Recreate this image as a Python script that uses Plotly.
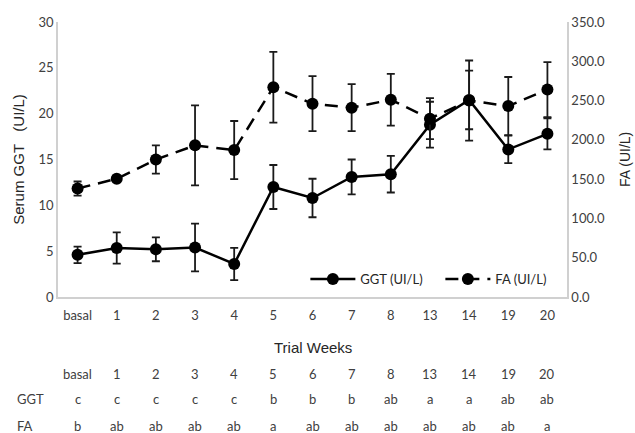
import plotly.graph_objects as go

weeks = ["basal", "1", "2", "3", "4", "5", "6", "7", "8", "13", "14", "19", "20"]
ggt = [4.6, 5.35, 5.2, 5.4, 3.6, 12.0, 10.8, 13.1, 13.4, 18.8, 21.5, 16.1, 17.8]
ggt_err = [0.9, 1.7, 1.3, 2.6, 1.75, 2.4, 2.1, 1.9, 2.0, 2.5, 3.2, 1.5, 1.7]
fa = [138, 150.5, 175, 193, 187, 267, 246, 241, 251, 227, 250, 243, 264]
fa_err = [9, 3, 18, 51, 37, 45, 35, 30, 33, 26, 51, 37, 35]
ggt_letters = ["c", "c", "c", "c", "c", "b", "b", "b", "ab", "a", "a", "ab", "ab"]
fa_letters = ["b", "ab", "ab", "ab", "ab", "a", "ab", "ab", "ab", "ab", "ab", "ab", "a"]

tick_font = dict(family="Lato, Carlito, Open Sans, sans-serif", size=13, color="#404040")
title_font = dict(family="Liberation Sans, Arial, sans-serif", size=15, color="#262626")

fig = go.Figure()
fig.add_trace(go.Scatter(
    x=weeks, y=ggt, name="GGT (UI/L)", mode="lines+markers",
    line=dict(color="black", width=2.5),
    marker=dict(size=12, color="black"),
    error_y=dict(type="data", array=ggt_err, color="#1a1a1a", thickness=1.8, width=4),
    yaxis="y"))
fig.add_trace(go.Scatter(
    x=weeks, y=fa, name="FA (UI/L)", mode="lines+markers",
    line=dict(color="black", width=2.5, dash="13px,8px"),
    marker=dict(size=12, color="black"),
    error_y=dict(type="data", array=fa_err, color="#1a1a1a", thickness=1.8, width=4),
    yaxis="y2"))

axcol = "#d0d0d0"
fig.update_layout(
    width=635, height=433,
    margin=dict(l=58, r=68, t=22, b=136),
    paper_bgcolor="white", plot_bgcolor="white",
    showlegend=True,
    legend=dict(orientation="h", x=0.486, y=0.065, xanchor="left", yanchor="middle",
                bgcolor="rgba(0,0,0,0)", font=dict(family=tick_font["family"], size=13, color="#262626"),
                itemwidth=45, entrywidth=75, entrywidthmode="pixels"),
    xaxis=dict(type="category", range=[-0.5, 12.5], showgrid=False, zeroline=False,
               showline=True, linecolor=axcol, linewidth=1.5, ticks="",
               tickfont=tick_font, ticklabelstandoff=6, automargin=False),
    yaxis=dict(range=[0, 30], dtick=5, showgrid=False, zeroline=False,
               showline=True, linecolor=axcol, linewidth=1.5, ticks="",
               tickfont=tick_font, automargin=False,
               title=dict(text="Serum GGT   (UI/L)", font=title_font, standoff=10)),
    yaxis2=dict(range=[0, 350], dtick=50, tickformat=".1f", overlaying="y", side="right",
                showgrid=False, zeroline=False, showline=True, linecolor=axcol, linewidth=1.5,
                ticks="", tickfont=tick_font, automargin=False),
)

# right axis title
fig.add_annotation(text="FA (UI/L)", xref="paper", yref="paper", x=1.113, y=0.5,
                   textangle=-90, showarrow=False,
                   font=dict(family=title_font["family"], size=14, color="#262626"),
                   xanchor="center", yanchor="middle")

# x-axis title
fig.add_annotation(text="Trial Weeks", xref="paper", yref="paper", x=0.5, y=-0.182,
                   showarrow=False, font=title_font, yanchor="middle")

# significance table
row_y = [-0.28, -0.371, -0.468]
for i, w in enumerate(weeks):
    fig.add_annotation(text=w, x=i, xref="x", yref="paper", y=row_y[0], showarrow=False,
                       font=tick_font, yanchor="middle")
for i, l in enumerate(ggt_letters):
    fig.add_annotation(text=l, x=i, xref="x", yref="paper", y=row_y[1], showarrow=False,
                       font=tick_font, yanchor="middle")
for i, l in enumerate(fa_letters):
    fig.add_annotation(text=l, x=i, xref="x", yref="paper", y=row_y[2], showarrow=False,
                       font=tick_font, yanchor="middle")
for lbl, yy in zip(["GGT", "FA"], row_y[1:]):
    fig.add_annotation(text=lbl, xref="paper", yref="paper", x=-0.085, y=yy, showarrow=False,
                       font=tick_font, xanchor="left", yanchor="middle")

fig.write_html("out.html", post_script="document.body.style.margin='0';",
               config={"displayModeBar": False})
